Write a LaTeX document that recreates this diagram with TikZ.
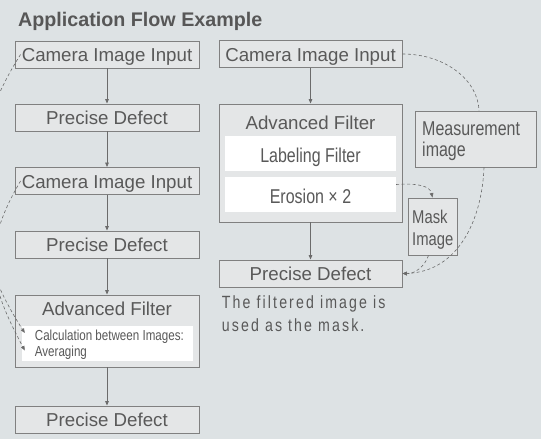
\documentclass[tikz,border=0pt]{standalone}
\usepackage{fontspec}
\setmainfont{Liberation Sans}
\newfontfamily\narrowfont[FakeStretch=0.8]{Liberation Sans}
\newfontfamily\spacedfont[FakeStretch=0.8,LetterSpace=12]{Liberation Sans}
\usepackage{tikz}
\usetikzlibrary{arrows.meta, calc}
\definecolor{bgcol}{HTML}{DDE2E4}
\definecolor{boxfill}{HTML}{E4E6E7}
\definecolor{boxline}{HTML}{808080}
\definecolor{txtcol}{HTML}{595959}
\colorlet{linecol}{black!58}
\colorlet{titlecol}{black!66}
\tikzset{
  flowbox/.style={draw=boxline, fill=boxfill, line width=0.9pt, inner sep=0pt,
    minimum width=184pt, minimum height=27pt, text height=14pt, text depth=0pt,
    font=\fontsize{18.7}{20}\selectfont, text=txtcol},
  panel/.style={draw=boxline, fill=boxfill, line width=0.9pt, inner sep=0pt},
  paneltitle/.style={anchor=base, inner sep=0pt, font=\fontsize{18.7}{20}\selectfont, text=txtcol},
  whitebox/.style={fill=white, inner sep=0pt, minimum width=171pt, minimum height=35pt,
    text height=18pt, text depth=0pt, font=\narrowfont\fontsize{20}{22}\selectfont, text=txtcol},
  note/.style={anchor=base west, align=left, inner sep=0pt, text=txtcol},
  tip/.style={-{Triangle[length=4.5pt,width=3.6pt]}},
  flow/.style={draw=linecol, line width=0.8pt, tip},
  link/.style={draw=linecol, line width=0.6pt, dash pattern=on 3pt off 2.5pt},
}

\begin{document}
\begin{tikzpicture}[x=1pt, y=-1pt]
    \clip (0,0) rectangle (541,439);
    \fill[bgcol] (0,0) rectangle (541,439);
    \node[anchor=base west, inner sep=0pt, font=\bfseries\fontsize{19.7}{22}\selectfont, text=titlecol] (title) at (18,26) {Application Flow Example};

    % left column
    \node[flowbox] (cam1) at (107,54.5) {Camera Image Input};
    \node[flowbox] (pd1) at (107,117.5) {Precise Defect};
    \node[flowbox] (cam2) at (107,181) {Camera Image Input};
    \node[flowbox] (pd2) at (107,244.5) {Precise Defect};
    \node[panel, minimum width=184pt, minimum height=72pt] (af1) at (107,331) {};
    \node[paneltitle] (af1title) at (107,315) {Advanced Filter};
    \node[whitebox] (calc) at (107.5,343.5) {};
    \node[note, font=\narrowfont\fontsize{14.5}{16}\selectfont] (calctxt) at (34.7,356.7) {Calculation between Images:\\Averaging};
    \node[flowbox] (pd3) at (107,419.5) {Precise Defect};

    \draw[flow] (cam1) -- (pd1);
    \draw[flow] (pd1) -- (cam2);
    \draw[flow] (cam2) -- (pd2);
    \draw[flow] (pd2) -- (af1);
    \draw[flow] (af1) -- (pd3);

    % right column
    \node[flowbox, minimum width=183pt] (cam3) at (310.5,54) {Camera Image Input};
    \node[panel, minimum width=183pt, minimum height=118pt] (af2) at (310.5,163) {};
    \node[paneltitle] (af2title) at (310.5,129) {Advanced Filter};
    \node[whitebox] (lab) at (310.5,153.5) {Labeling Filter};
    \node[whitebox] (ero) at (310.5,194.5) {Erosion × 2};
    \node[flowbox, minimum width=183pt] (pd4) at (310.5,273.5) {Precise Defect};
    \node[note, font=\spacedfont\fontsize{17.7}{23.5}\selectfont] (caption) at (221.7,331.5) {The filtered image is\\used as the mask.};

    \draw[flow] (cam3) -- (af2);
    \draw[flow] (af2) -- (pd4);

    % images on the side
    \node[panel, minimum width=121pt, minimum height=56pt] (meas) at (475.5,139) {};
    \node[note, font=\narrowfont\fontsize{20}{21.5}\selectfont] (meastxt) at (422,156.8) {Measurement\\image};
    \node[panel, minimum width=49pt, minimum height=57pt] (mask) at (432.5,226.5) {};
    \node[note, font=\narrowfont\fontsize{18.5}{21.7}\selectfont] (masktxt) at (412,245) {Mask\\Image};

    % dashed links
    \coordinate (out1) at ($(cam1.west)+(6,0)$);
    \coordinate (out2) at ($(cam2.west)+(6,0)$);
    \coordinate (avg1) at ($(calc.west)+(3,-10.5)$);
    \coordinate (avg2) at ($(calc.west)+(3,7)$);
    \coordinate (measin) at ($(meas.north)+(3.5,0)$);
    \coordinate (measout) at ($(meas.south)+(8.5,0)$);
    \coordinate (eroout) at ($(ero.east)+(0,-10)$);
    \coordinate (maskout) at ($(mask.south)+(-4,0)$);

    \draw[link, tip] (out1) .. controls (-40,150) and (-35,240) .. (avg1);
    \draw[link, tip] (out2) .. controls (-20,250) and (-10,285) .. (avg2);
    \draw[link] (cam3.east) .. controls (445,54) and (478,80) .. (measin);
    \draw[link, tip] (measout) .. controls (482,220) and (458,272) .. (pd4.east);
    \draw[link, tip] (eroout) .. controls (418,183) and (430,186) .. (mask.north);
    \draw[link, tip] (maskout) .. controls (425,266) and (415,274) .. (pd4.east);
\end{tikzpicture}
\end{document}
